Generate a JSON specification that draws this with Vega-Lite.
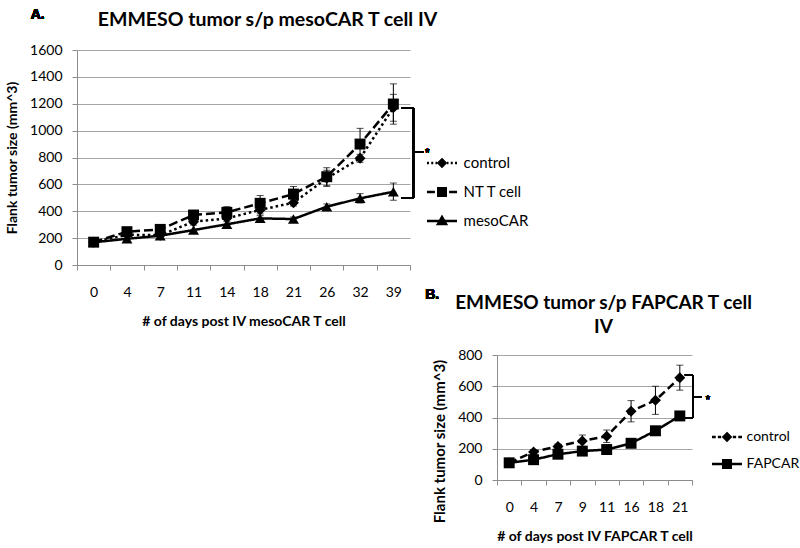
{
  "$schema": "https://vega.github.io/schema/vega-lite/v6.json",
  "background": "white",
  "padding": {"left": 5, "top": 8, "right": 0, "bottom": 3},
  "bounds": "flush",
  "spacing": 87,
  "resolve": {"scale": {"strokeDash": "independent"}},
  "datasets": {
    "A": [
      {"day": "0", "series": "control", "v": 170},
      {"day": "4", "series": "control", "v": 225},
      {"day": "7", "series": "control", "v": 222},
      {"day": "11", "series": "control", "v": 322, "lo": 297, "hi": 347},
      {"day": "14", "series": "control", "v": 347, "lo": 322, "hi": 372},
      {"day": "18", "series": "control", "v": 410, "lo": 380, "hi": 440},
      {"day": "21", "series": "control", "v": 464, "lo": 439, "hi": 489},
      {"day": "26", "series": "control", "v": 645, "lo": 585, "hi": 705},
      {"day": "32", "series": "control", "v": 794, "lo": 764, "hi": 824},
      {"day": "39", "series": "control", "v": 1170, "lo": 1070, "hi": 1270},
      {"day": "0", "series": "NT T cell", "v": 170},
      {"day": "4", "series": "NT T cell", "v": 248},
      {"day": "7", "series": "NT T cell", "v": 265},
      {"day": "11", "series": "NT T cell", "v": 372, "lo": 347, "hi": 397},
      {"day": "14", "series": "NT T cell", "v": 392, "lo": 350, "hi": 434},
      {"day": "18", "series": "NT T cell", "v": 459, "lo": 401, "hi": 517},
      {"day": "21", "series": "NT T cell", "v": 528, "lo": 472, "hi": 584},
      {"day": "26", "series": "NT T cell", "v": 657, "lo": 590, "hi": 724},
      {"day": "32", "series": "NT T cell", "v": 900, "lo": 783, "hi": 1017},
      {"day": "39", "series": "NT T cell", "v": 1198, "lo": 1048, "hi": 1348},
      {"day": "0", "series": "mesoCAR", "v": 169},
      {"day": "4", "series": "mesoCAR", "v": 195},
      {"day": "7", "series": "mesoCAR", "v": 218},
      {"day": "11", "series": "mesoCAR", "v": 260},
      {"day": "14", "series": "mesoCAR", "v": 303},
      {"day": "18", "series": "mesoCAR", "v": 347, "lo": 327, "hi": 367},
      {"day": "21", "series": "mesoCAR", "v": 342, "lo": 327, "hi": 357},
      {"day": "26", "series": "mesoCAR", "v": 434, "lo": 414, "hi": 454},
      {"day": "32", "series": "mesoCAR", "v": 496, "lo": 461, "hi": 531},
      {"day": "39", "series": "mesoCAR", "v": 545, "lo": 482, "hi": 610}
    ],
    "B": [
      {"day": "0", "series": "control", "v": 110},
      {"day": "4", "series": "control", "v": 180, "lo": 165, "hi": 195},
      {"day": "7", "series": "control", "v": 215, "lo": 200, "hi": 230},
      {"day": "9", "series": "control", "v": 250, "lo": 212, "hi": 288},
      {"day": "11", "series": "control", "v": 280, "lo": 240, "hi": 320},
      {"day": "16", "series": "control", "v": 440, "lo": 372, "hi": 508},
      {"day": "18", "series": "control", "v": 510, "lo": 420, "hi": 600},
      {"day": "21", "series": "control", "v": 655, "lo": 575, "hi": 735},
      {"day": "0", "series": "FAPCAR", "v": 110},
      {"day": "4", "series": "FAPCAR", "v": 130},
      {"day": "7", "series": "FAPCAR", "v": 165},
      {"day": "9", "series": "FAPCAR", "v": 185},
      {"day": "11", "series": "FAPCAR", "v": 195},
      {"day": "16", "series": "FAPCAR", "v": 235, "lo": 220, "hi": 250},
      {"day": "18", "series": "FAPCAR", "v": 315, "lo": 300, "hi": 330},
      {"day": "21", "series": "FAPCAR", "v": 410, "lo": 390, "hi": 430}
    ]
  },
  "hconcat": [
    {
      "width": 333,
      "height": 215,
      "data": {"name": "A"},
      "title": {"text": "EMMESO tumor s/p mesoCAR T cell IV", "frame": "group", "anchor": "middle", "dx": 24, "offset": 0, "dy": 41, "baseline": "bottom", "fontSize": 19.5},
      "resolve": {"scale": {"shape": "independent"}},
      "encoding": {
        "x": {"field": "day", "type": "ordinal", "sort": null, "title": "# of days post IV mesoCAR T cell",
              "scale": {"type": "band", "domain": ["0", "4", "7", "11", "14", "18", "21", "26", "32", "39"], "paddingInner": 0, "paddingOuter": 0}},
        "y": {"field": "v", "type": "quantitative", "title": "Flank tumor size (mm^3)",
              "scale": {"domain": [0, 1600], "nice": false},
              "axis": {"values": [0, 200, 400, 600, 800, 1000, 1200, 1400, 1600], "format": "d"}}
      },
      "layer": [
        {"transform": [{"filter": "datum.lo != null"}], "mark": {"type": "rule", "color": "black", "strokeWidth": 1},
         "encoding": {"y": {"field": "lo", "type": "quantitative"}, "y2": {"field": "hi"}}},
        {"transform": [{"filter": "datum.lo != null"}], "mark": {"type": "tick", "color": "black", "thickness": 1, "size": 7},
         "encoding": {"y": {"field": "lo", "type": "quantitative"}}},
        {"transform": [{"filter": "datum.lo != null"}], "mark": {"type": "tick", "color": "black", "thickness": 1, "size": 7},
         "encoding": {"y": {"field": "hi", "type": "quantitative"}}},
        {"mark": {"type": "line", "color": "black", "strokeWidth": 2.5},
         "encoding": {"strokeDash": {"field": "series", "type": "nominal", "legend": null,
                                     "scale": {"domain": ["control", "NT T cell", "mesoCAR"], "range": [[2.5, 3], [9, 4], [1, 0]]}}}},
        {"mark": {"type": "point", "filled": true, "color": "black", "opacity": 1, "size": 120},
         "encoding": {"shape": {"field": "series", "type": "nominal", "legend": null,
                                "scale": {"domain": ["control", "NT T cell", "mesoCAR"], "range": ["diamond", "square", "triangle-up"]}}}},
        {"transform": [{"filter": "false"}],
         "mark": {"type": "point", "filled": false, "color": "black", "strokeWidth": 2.5},
         "encoding": {"shape": {"field": "series", "type": "nominal",
                                "scale": {"domain": ["control", "NT T cell", "mesoCAR"],
                                          "range": ["M-1.8,0H-1.56M-1.29,0H-1.05M-0.78,0H-0.6M0.6,0H0.78M1.05,0H1.29M1.56,0H1.8M0,-0.42L0.42,0L0,0.42L-0.42,0ZM-0.2,0H0.2",
                                                    "M-1.8,0H-0.85M0.85,0H1.8M-0.45,-0.45H0.45V0.45H-0.45ZM-0.3,-0.15H0.3M-0.3,0.15H0.3",
                                                    "M-1.8,0H1.8M-0.48,0.36L0,-0.48L0.48,0.36ZM-0.22,0.18H0.22M0,-0.12V0.25"]},
                                "legend": {"orient": "none", "legendX": 355, "legendY": 103, "title": null, "padding": 0,
                                           "symbolSize": 278, "symbolStrokeWidth": 2.5, "symbolStrokeColor": "black",
                                           "symbolOpacity": 1, "labelFontSize": 15, "labelFont": "Lato", "labelColor": "black", "labelOffset": 11.6, "rowPadding": 10}}}},
        {"mark": {"type": "tick", "color": "black", "thickness": 1.5, "size": 12, "xOffset": 14},
         "encoding": {"x": {"datum": "39"}, "y": {"datum": 1168}}},
        {"mark": {"type": "tick", "color": "black", "thickness": 1.5, "size": 12, "xOffset": 14},
         "encoding": {"x": {"datum": "39"}, "y": {"datum": 498}}},
        {"mark": {"type": "rule", "color": "black", "strokeWidth": 1.5, "xOffset": 20},
         "encoding": {"x": {"datum": "39"}, "y": {"datum": 1168}, "y2": {"datum": 498}}},
        {"mark": {"type": "tick", "color": "black", "thickness": 1.5, "size": 10, "xOffset": 25},
         "encoding": {"x": {"datum": "39"}, "y": {"datum": 841}}},
        {"mark": {"type": "text", "text": "*", "fontSize": 12, "font": "Liberation Sans", "xOffset": 34, "yOffset": 3, "color": "black"},
         "encoding": {"x": {"datum": "39"}, "y": {"datum": 856}}},
        {"mark": {"type": "text", "text": "A.", "fontSize": 14, "fontWeight": "bold", "font": "Liberation Sans", "xOffset": -56, "color": "black"},
         "encoding": {"x": {"datum": "0"}, "y": {"datum": 1860}}}
      ]
    },
    {
      "width": 195,
      "height": 430,
      "data": {"name": "B"},
      "title": {"text": ["EMMESO tumor s/p FAPCAR T cell", "IV"], "frame": "group", "anchor": "middle", "dx": 9, "offset": 0, "dy": 306, "baseline": "bottom", "lineHeight": 24, "fontSize": 19},
      "resolve": {"scale": {"shape": "independent"}},
      "encoding": {
        "x": {"field": "day", "type": "ordinal", "sort": null, "title": "# of days post IV FAPCAR T cell",
              "scale": {"type": "band", "domain": ["0", "4", "7", "9", "11", "16", "18", "21"], "paddingInner": 0, "paddingOuter": 0}},
        "y": {"field": "v", "type": "quantitative", "title": "Flank tumor size (mm^3)",
              "scale": {"domain": [0, 800], "nice": false, "range": [430, 305]},
              "axis": {"values": [0, 200, 400, 600, 800], "format": "d", "titleY": 391, "titleFontSize": 15}}
      },
      "layer": [
        {"transform": [{"filter": "datum.lo != null"}], "mark": {"type": "rule", "color": "black", "strokeWidth": 1},
         "encoding": {"y": {"field": "lo", "type": "quantitative"}, "y2": {"field": "hi"}}},
        {"transform": [{"filter": "datum.lo != null"}], "mark": {"type": "tick", "color": "black", "thickness": 1, "size": 7},
         "encoding": {"y": {"field": "lo", "type": "quantitative"}}},
        {"transform": [{"filter": "datum.lo != null"}], "mark": {"type": "tick", "color": "black", "thickness": 1, "size": 7},
         "encoding": {"y": {"field": "hi", "type": "quantitative"}}},
        {"mark": {"type": "line", "color": "black", "strokeWidth": 2.5},
         "encoding": {"strokeDash": {"field": "series", "type": "nominal", "legend": null,
                                     "scale": {"domain": ["control", "FAPCAR"], "range": [[8, 4], [1, 0]]}}}},
        {"mark": {"type": "point", "filled": true, "color": "black", "opacity": 1, "size": 120},
         "encoding": {"shape": {"field": "series", "type": "nominal", "legend": null,
                                "scale": {"domain": ["control", "FAPCAR"], "range": ["diamond", "square"]}}}},
        {"transform": [{"filter": "false"}],
         "mark": {"type": "point", "filled": false, "color": "black", "strokeWidth": 2.5},
         "encoding": {"shape": {"field": "series", "type": "nominal",
                                "scale": {"domain": ["control", "FAPCAR"],
                                          "range": ["M-1.8,0H-1.35M-1.1,0H-0.7M0.7,0H1.1M1.35,0H1.8M0,-0.42L0.42,0L0,0.42L-0.42,0ZM-0.2,0H0.2",
                                                    "M-1.8,0H1.8M-0.45,-0.45H0.45V0.45H-0.45ZM-0.3,-0.15H0.3M-0.3,0.15H0.3"]},
                                "legend": {"orient": "none", "legendX": 220, "legendY": 377, "title": null, "padding": 0,
                                           "symbolSize": 278, "symbolStrokeWidth": 2.5, "symbolStrokeColor": "black",
                                           "symbolOpacity": 1, "labelFontSize": 14, "labelFont": "Lato", "labelColor": "black", "labelOffset": 9.6, "rowPadding": 8}}}},
        {"mark": {"type": "tick", "color": "black", "thickness": 1.5, "size": 8, "xOffset": 9},
         "encoding": {"x": {"datum": "21"}, "y": {"datum": 672}}},
        {"mark": {"type": "tick", "color": "black", "thickness": 1.5, "size": 8, "xOffset": 9},
         "encoding": {"x": {"datum": "21"}, "y": {"datum": 397}}},
        {"mark": {"type": "rule", "color": "black", "strokeWidth": 1.5, "xOffset": 13},
         "encoding": {"x": {"datum": "21"}, "y": {"datum": 672}, "y2": {"datum": 397}}},
        {"mark": {"type": "tick", "color": "black", "thickness": 1.5, "size": 9, "xOffset": 17.5},
         "encoding": {"x": {"datum": "21"}, "y": {"datum": 531}}},
        {"mark": {"type": "text", "text": "*", "fontSize": 12, "font": "Liberation Sans", "xOffset": 28, "yOffset": 3, "color": "black"},
         "encoding": {"x": {"datum": "21"}, "y": {"datum": 531}}},
        {"mark": {"type": "text", "text": "B.", "fontSize": 14, "fontWeight": "bold", "font": "Liberation Sans", "xOffset": -77, "color": "black"},
         "encoding": {"x": {"datum": "0"}, "y": {"datum": 1184}}}
      ]
    }
  ],
  "config": {
    "view": {"stroke": null},
    "font": "Lato",
    "title": {"font": "Lato", "fontSize": 18, "fontWeight": "bold", "color": "black"},
    "axis": {"labelFont": "Lato", "titleFont": "Lato", "labelFontSize": 14, "labelColor": "black", "titleFontSize": 14, "titleFontWeight": "bold", "titleColor": "black",
             "domainColor": "#8c8c8c", "tickColor": "#8c8c8c", "gridColor": "#a6a6a6", "domainWidth": 1, "tickWidth": 1, "gridWidth": 1},
    "axisX": {"labelAngle": 0, "grid": false, "tickBand": "extent", "tickSize": 5, "labelPadding": 15, "titlePadding": 15},
    "axisY": {"grid": true, "tickSize": 5, "labelPadding": 10, "titlePadding": 10}
  }
}
